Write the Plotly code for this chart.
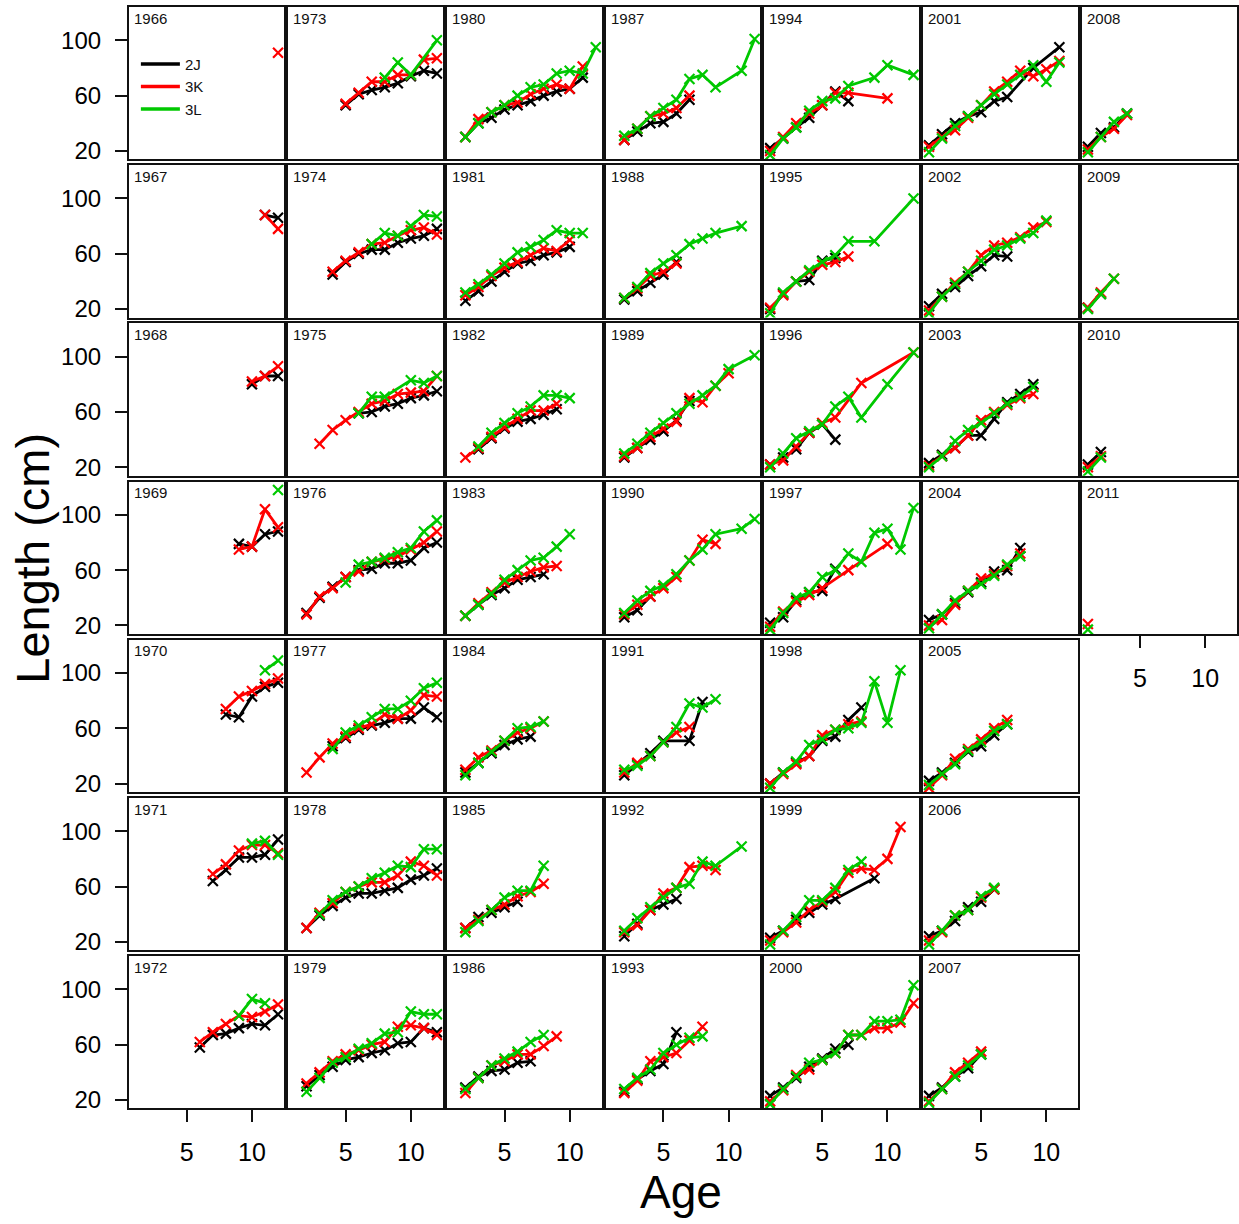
import plotly.graph_objects as go

# ---------------- data ----------------
YEARS = list(range(1966, 2012))
DIVISIONS = ["2J", "3K", "3L"]
COLORS = {"2J": "#000000", "3K": "#FF0000", "3L": "#00C800"}
X_TICKS = [5, 10]
Y_TICKS = [20, 60, 100]

# mean length (cm) at age, by year: {year: {age: length}}
L_2J = {
    1967: {11: 88, 12: 86},
    1968: {10: 80, 11: 86, 12: 86},
    1969: {9: 79, 10: 77, 11: 86, 12: 88},
    1970: {8: 70, 9: 68, 10: 83, 11: 90, 12: 93},
    1971: {7: 64, 8: 72, 9: 81, 10: 81, 11: 83, 12: 94},
    1972: {6: 58, 7: 67, 8: 68, 9: 72, 10: 75, 11: 74, 12: 82},
    1973: {5: 53, 6: 61, 7: 64, 8: 66, 9: 69, 10: 74, 11: 78, 12: 76},
    1974: {4: 45, 5: 54, 6: 60, 7: 63, 8: 63, 9: 68, 10: 71, 11: 73, 12: 78},
    1975: {6: 59, 7: 60, 8: 64, 9: 66, 10: 70, 11: 72, 12: 75},
    1976: {2: 29, 3: 40, 4: 48, 5: 55, 6: 60, 7: 61, 8: 65, 9: 65, 10: 67, 11: 76, 12: 80},
    1977: {4: 47, 5: 53, 6: 59, 7: 62, 8: 64, 9: 67, 10: 67, 11: 75, 12: 68},
    1978: {2: 30, 3: 39, 4: 46, 5: 52, 6: 55, 7: 55, 8: 57, 9: 59, 10: 65, 11: 68, 12: 73},
    1979: {2: 30, 3: 38, 4: 44, 5: 49, 6: 51, 7: 54, 8: 56, 9: 61, 10: 62, 11: 72, 12: 69},
    1980: {2: 30, 3: 40, 4: 44, 5: 50, 6: 53, 7: 56, 8: 60, 9: 63, 10: 65, 11: 73},
    1981: {2: 26, 3: 33, 4: 40, 5: 47, 6: 53, 7: 55, 8: 59, 9: 61, 10: 65},
    1982: {3: 33, 4: 41, 5: 48, 6: 53, 7: 55, 8: 58, 9: 62},
    1983: {2: 27, 3: 35, 4: 42, 5: 47, 6: 53, 7: 55, 8: 57},
    1984: {2: 28, 3: 35, 4: 42, 5: 48, 6: 52, 7: 54},
    1985: {2: 30, 3: 38, 4: 41, 5: 45, 6: 49},
    1986: {2: 29, 3: 37, 4: 41, 5: 42, 6: 47, 7: 48},
    1987: {2: 28, 3: 34, 4: 40, 5: 41, 6: 47, 7: 57},
    1988: {2: 27, 3: 33, 4: 39, 5: 45, 6: 54},
    1989: {2: 27, 3: 34, 4: 40, 5: 46, 6: 54, 7: 68},
    1990: {2: 26, 3: 31, 4: 41},
    1991: {2: 26, 3: 34, 4: 42, 5: 51, 7: 51, 8: 79},
    1992: {2: 24, 3: 33, 4: 43, 5: 47, 6: 51},
    1993: {2: 26, 3: 35, 4: 41, 5: 46, 6: 69},
    1994: {1: 22, 2: 29, 3: 37, 4: 44, 5: 53, 6: 63, 7: 56},
    1995: {1: 20, 2: 31, 3: 40, 4: 41, 5: 55, 6: 57},
    1996: {1: 22, 2: 27, 3: 33, 4: 45, 5: 51, 6: 40},
    1997: {1: 22, 2: 26, 3: 38, 4: 44, 5: 45, 6: 61},
    1998: {1: 20, 2: 28, 3: 35, 4: 40, 5: 51, 6: 54, 7: 66, 8: 75},
    1999: {1: 23, 2: 28, 3: 36, 4: 41, 5: 47, 6: 51, 9: 66},
    2000: {1: 23, 2: 29, 3: 36, 4: 44, 5: 50, 6: 57, 7: 60},
    2001: {1: 24, 2: 32, 3: 40, 4: 45, 5: 48, 6: 56, 7: 59, 9: 80, 11: 95},
    2002: {1: 22, 2: 31, 3: 36, 4: 44, 5: 51, 6: 59, 7: 58},
    2003: {1: 23, 2: 29, 3: 34, 4: 43, 5: 43, 6: 55, 7: 67, 8: 73, 9: 80},
    2004: {1: 24, 2: 28, 3: 36, 4: 44, 5: 51, 6: 59, 7: 60, 8: 76},
    2005: {1: 22, 2: 28, 3: 35, 4: 43, 5: 47, 6: 55, 7: 63},
    2006: {1: 24, 2: 28, 3: 35, 4: 45, 5: 49, 6: 58},
    2007: {1: 23, 2: 29, 3: 37, 4: 43, 5: 53},
    2008: {1: 23, 2: 33, 3: 37, 4: 47},
    2009: {1: 21, 2: 31},
    2010: {1: 22, 2: 31},
}

L_3K = {
    1966: {12: 91},
    1967: {11: 88, 12: 78},
    1968: {10: 82, 11: 86, 12: 93},
    1969: {9: 75, 10: 77, 11: 104, 12: 91},
    1970: {8: 74, 9: 83, 10: 87, 11: 92, 12: 96},
    1971: {7: 69, 8: 76, 9: 86, 10: 90, 11: 90, 12: 84},
    1972: {6: 62, 7: 69, 8: 75, 9: 81, 10: 80, 11: 84, 12: 89},
    1973: {5: 54, 6: 62, 7: 70, 8: 70, 9: 75, 10: 75, 11: 86, 12: 87},
    1974: {4: 47, 5: 55, 6: 61, 7: 67, 8: 68, 9: 73, 10: 77, 11: 79, 12: 74},
    1975: {3: 37, 4: 47, 5: 54, 6: 60, 7: 66, 8: 68, 9: 73, 10: 74, 11: 75, 12: 86},
    1976: {2: 28, 3: 41, 4: 47, 5: 55, 6: 59, 7: 66, 8: 68, 9: 70, 10: 75, 11: 80, 12: 88},
    1977: {2: 28, 3: 39, 4: 49, 5: 54, 6: 60, 7: 63, 8: 70, 9: 67, 10: 73, 11: 84, 12: 83},
    1978: {2: 30, 3: 41, 4: 48, 5: 56, 6: 60, 7: 63, 8: 63, 9: 68, 10: 78, 11: 75, 12: 68},
    1979: {2: 32, 3: 40, 4: 48, 5: 53, 6: 56, 7: 60, 8: 62, 9: 73, 10: 74, 11: 72, 12: 67},
    1980: {2: 30, 3: 43, 4: 48, 5: 53, 6: 55, 7: 61, 8: 65, 9: 68, 10: 65, 11: 81},
    1981: {2: 30, 3: 36, 4: 44, 5: 50, 6: 54, 7: 59, 8: 64, 9: 62, 10: 70},
    1982: {2: 27, 3: 34, 4: 42, 5: 49, 6: 55, 7: 61, 8: 61, 9: 66},
    1983: {2: 27, 3: 36, 4: 44, 5: 51, 6: 55, 7: 59, 8: 62, 9: 63},
    1984: {2: 30, 3: 39, 4: 44, 5: 51, 6: 57, 7: 60, 8: 65},
    1985: {2: 30, 3: 36, 4: 43, 5: 47, 6: 53, 7: 56, 8: 62},
    1986: {2: 25, 3: 36, 4: 45, 5: 48, 6: 53, 7: 53, 8: 59, 9: 66},
    1987: {2: 28, 3: 36, 4: 45, 5: 47, 6: 51, 7: 60},
    1988: {2: 28, 3: 35, 4: 44, 5: 47, 6: 53},
    1989: {2: 28, 3: 34, 4: 42, 5: 48, 6: 53, 7: 70, 8: 67, 9: 79, 10: 88},
    1990: {2: 28, 3: 35, 4: 41, 5: 47, 6: 55, 7: 67, 8: 82, 9: 79},
    1991: {2: 28, 3: 35, 4: 40, 5: 50, 6: 57, 7: 61},
    1992: {2: 27, 3: 32, 4: 43, 5: 55, 6: 59, 7: 74, 8: 75, 9: 72},
    1993: {2: 25, 3: 34, 4: 48, 5: 51, 6: 54, 7: 63, 8: 73},
    1994: {1: 20, 2: 30, 3: 40, 4: 47, 5: 53, 6: 62, 7: 62, 10: 58},
    1995: {1: 21, 2: 30, 3: 40, 4: 47, 5: 52, 6: 54, 7: 58},
    1996: {1: 22, 2: 25, 3: 35, 4: 45, 5: 52, 6: 56, 8: 81, 12: 103},
    1997: {1: 19, 2: 30, 3: 37, 4: 42, 5: 47, 7: 60, 10: 79},
    1998: {1: 20, 2: 27, 3: 34, 4: 40, 5: 55, 6: 59, 7: 63, 8: 65},
    1999: {1: 21, 2: 27, 3: 34, 4: 43, 5: 49, 6: 56, 7: 70, 8: 73, 9: 72, 10: 80, 11: 103},
    2000: {1: 19, 2: 27, 3: 38, 4: 42, 5: 49, 6: 54, 7: 67, 8: 67, 9: 72, 10: 72, 11: 76, 12: 90},
    2001: {1: 23, 2: 30, 3: 35, 4: 44, 5: 53, 6: 63, 7: 70, 8: 78, 9: 74, 10: 79, 11: 85},
    2002: {1: 19, 2: 29, 3: 39, 4: 47, 5: 59, 6: 66, 7: 68, 8: 72, 9: 79, 10: 83},
    2003: {1: 21, 2: 28, 3: 34, 4: 43, 5: 54, 6: 60, 7: 65, 8: 70, 9: 73},
    2004: {1: 20, 2: 24, 3: 35, 4: 45, 5: 54, 6: 57, 7: 63, 8: 72},
    2005: {1: 17, 2: 26, 3: 38, 4: 45, 5: 52, 6: 60, 7: 66},
    2006: {1: 21, 2: 27, 3: 39, 4: 43, 5: 52, 6: 58},
    2007: {1: 19, 2: 28, 3: 40, 4: 47, 5: 55},
    2008: {1: 21, 2: 30, 3: 36, 4: 46},
    2009: {1: 21, 2: 32, 3: 42},
    2010: {1: 20, 2: 28},
    2011: {1: 21},
}

L_3L = {
    1969: {12: 118},
    1970: {11: 102, 12: 109},
    1971: {10: 91, 11: 93, 12: 83},
    1972: {9: 81, 10: 93, 11: 90},
    1973: {8: 73, 9: 84, 10: 75, 12: 100},
    1974: {7: 67, 8: 75, 9: 73, 10: 80, 11: 88, 12: 87},
    1975: {6: 59, 7: 71, 8: 71, 10: 83, 11: 81, 12: 86},
    1976: {5: 51, 6: 64, 7: 66, 8: 69, 9: 73, 10: 76, 11: 88, 12: 96},
    1977: {4: 45, 5: 57, 6: 62, 7: 68, 8: 74, 9: 74, 10: 80, 11: 89, 12: 93},
    1978: {3: 40, 4: 50, 5: 56, 6: 60, 7: 66, 8: 70, 9: 75, 10: 74, 11: 87, 12: 87},
    1979: {2: 26, 3: 36, 4: 47, 5: 51, 6: 57, 7: 61, 8: 68, 9: 69, 10: 84, 11: 82, 12: 82},
    1980: {2: 30, 3: 40, 4: 48, 5: 53, 6: 60, 7: 66, 8: 68, 9: 76, 10: 78, 11: 76, 12: 95},
    1981: {2: 32, 3: 38, 4: 45, 5: 53, 6: 61, 7: 65, 8: 70, 9: 77, 10: 75, 11: 75},
    1982: {3: 35, 4: 45, 5: 52, 6: 59, 7: 64, 8: 72, 9: 72, 10: 70},
    1983: {2: 27, 3: 35, 4: 43, 5: 53, 6: 60, 7: 67, 8: 69, 9: 77, 10: 86},
    1984: {2: 26, 3: 35, 4: 43, 5: 51, 6: 60, 7: 61, 8: 65},
    1985: {2: 27, 3: 35, 4: 43, 5: 52, 6: 57, 7: 57, 8: 75},
    1986: {2: 28, 3: 36, 4: 45, 5: 50, 6: 55, 7: 62, 8: 67},
    1987: {2: 31, 3: 36, 4: 45, 5: 51, 6: 57, 7: 72, 8: 75, 9: 66, 11: 78, 12: 101},
    1988: {2: 28, 3: 36, 4: 46, 5: 53, 6: 59, 7: 67, 8: 71, 9: 75, 11: 80},
    1989: {2: 30, 3: 37, 4: 45, 5: 52, 6: 59, 7: 66, 8: 72, 9: 79, 10: 91, 12: 101},
    1990: {2: 29, 3: 38, 4: 45, 5: 49, 6: 57, 7: 67, 8: 75, 9: 86, 11: 90, 12: 97},
    1991: {2: 30, 3: 33, 4: 40, 5: 50, 6: 61, 7: 78, 8: 75, 9: 81},
    1992: {2: 28, 3: 37, 4: 45, 5: 52, 6: 59, 7: 62, 8: 78, 9: 75, 11: 89},
    1993: {2: 28, 3: 36, 4: 42, 5: 54, 6: 60, 7: 65, 8: 66},
    1994: {1: 17, 2: 29, 3: 37, 4: 49, 5: 56, 6: 58, 7: 67, 9: 73, 10: 82, 12: 75},
    1995: {1: 17, 2: 32, 3: 40, 4: 48, 5: 54, 6: 59, 7: 69, 9: 69, 12: 100},
    1996: {1: 20, 2: 30, 3: 41, 4: 46, 5: 51, 6: 64, 7: 71, 8: 56, 10: 80, 12: 103},
    1997: {1: 17, 2: 29, 3: 40, 4: 44, 5: 55, 6: 60, 7: 72, 8: 66, 9: 87, 10: 90, 11: 75, 12: 105},
    1998: {1: 17, 2: 28, 3: 36, 4: 48, 5: 52, 6: 59, 7: 60, 8: 64, 9: 94, 10: 64, 11: 102},
    1999: {1: 18, 2: 28, 3: 38, 4: 50, 5: 50, 6: 59, 7: 72, 8: 78},
    2000: {1: 17, 2: 28, 3: 37, 4: 47, 5: 49, 6: 54, 7: 67, 8: 67, 9: 77, 10: 77, 11: 78, 12: 103},
    2001: {1: 19, 2: 29, 3: 38, 4: 45, 5: 53, 6: 61, 7: 68, 8: 75, 9: 82, 10: 70, 11: 84},
    2002: {1: 17, 2: 29, 3: 38, 4: 47, 5: 55, 6: 63, 7: 66, 8: 71, 9: 75, 10: 84},
    2003: {1: 20, 2: 28, 3: 39, 4: 47, 5: 52, 6: 59, 7: 66, 8: 71, 9: 78},
    2004: {1: 18, 2: 28, 3: 38, 4: 45, 5: 50, 6: 56, 7: 64, 8: 70},
    2005: {1: 19, 2: 27, 3: 34, 4: 44, 5: 50, 6: 58, 7: 63},
    2006: {1: 18, 2: 28, 3: 39, 4: 43, 5: 53, 6: 59},
    2007: {1: 18, 2: 28, 3: 37, 4: 45, 5: 53},
    2008: {1: 19, 2: 30, 3: 41, 4: 47},
    2009: {1: 20, 2: 31, 3: 42},
    2010: {1: 17, 2: 27},
    2011: {1: 17},
}

SERIES = {"2J": L_2J, "3K": L_3K, "3L": L_3L}

# ---------------- layout geometry ----------------
W, H = 1239, 1224
NROW = 7
PANEL_W, PANEL_H = 155, 153
COL_LEFT0, COL_STEP = 129, 159
ROW_TOP0, ROW_STEP = 7, 158.83
X_RANGE = [0.56, 12.44]
Y_RANGE = [13.9, 124.1]
FONT = "Liberation Sans, Arial, Helvetica, sans-serif"
FRAME = "#111111"

fig = go.Figure()
layout = {}
annotations = []

for i, year in enumerate(YEARS):
    col, row = divmod(i, NROW)
    n = i + 1
    sfx = "" if n == 1 else str(n)
    xa, ya = "x" + sfx, "y" + sfx
    left = COL_LEFT0 + COL_STEP * col
    top = ROW_TOP0 + ROW_STEP * row
    show_x = (row == NROW - 1) or (year == YEARS[-1])
    show_y = col == 0
    layout["xaxis" + sfx] = dict(
        domain=[left / W, (left + PANEL_W) / W], range=X_RANGE, anchor=ya,
        showgrid=False, zeroline=False, showline=True, mirror=True,
        linecolor=FRAME, linewidth=2,
        tickmode="array", tickvals=X_TICKS if show_x else [],
        ticks="outside" if show_x else "", ticklen=12, tickwidth=2, tickcolor=FRAME,
        showticklabels=show_x, tickfont=dict(size=25, color="black", family=FONT),
        ticklabelstandoff=9,
    )
    layout["yaxis" + sfx] = dict(
        domain=[1 - (top + PANEL_H) / H, 1 - top / H], range=Y_RANGE, anchor=xa,
        showgrid=False, zeroline=False, showline=True, mirror=True,
        linecolor=FRAME, linewidth=2,
        tickmode="array", tickvals=Y_TICKS if show_y else [],
        ticks="outside" if show_y else "", ticklen=12, tickwidth=2, tickcolor=FRAME,
        showticklabels=show_y, tickfont=dict(size=24, color="black", family=FONT),
        ticklabelstandoff=9,
    )
    annotations.append(dict(
        text=str(year), xref=xa + " domain", yref=ya + " domain", x=0.02, y=0.995,
        xanchor="left", yanchor="top", showarrow=False,
        font=dict(size=15, color="#111111", family=FONT),
    ))
    for div in DIVISIONS:
        d = SERIES[div].get(year)
        if not d:
            continue
        ages = sorted(d)
        fig.add_trace(go.Scatter(
            x=ages, y=[d[a] for a in ages], xaxis=xa, yaxis=ya,
            mode="lines+markers", name=div, showlegend=False, hoverinfo="skip",
            line=dict(color=COLORS[div], width=2.8),
            marker=dict(symbol="x-thin", size=10, color=COLORS[div],
                        line=dict(width=2.2, color=COLORS[div])),
        ))

# legend entries (line keys, as in the reference)
for div in DIVISIONS:
    fig.add_trace(go.Scatter(x=[None], y=[None], xaxis="x", yaxis="y", mode="lines",
                             name=div, line=dict(color=COLORS[div], width=3.5)))

annotations.append(dict(text="Length (cm)", xref="paper", yref="paper",
                        x=33 / W, y=1 - 560 / H, textangle=-90, showarrow=False,
                        xanchor="center", yanchor="middle",
                        font=dict(size=47, color="black", family=FONT)))
annotations.append(dict(text="Age", xref="paper", yref="paper",
                        x=682 / W, y=1 - 1197 / H, showarrow=False,
                        xanchor="center", yanchor="middle",
                        font=dict(size=46, color="black", family=FONT)))

fig.update_layout(
    width=W, height=H, margin=dict(l=0, r=0, t=0, b=0),
    paper_bgcolor="white", plot_bgcolor="white",
    font=dict(family=FONT, color="black"),
    annotations=annotations,
    legend=dict(x=136 / W, y=1 - 48 / H, xanchor="left", yanchor="top",
                bgcolor="rgba(0,0,0,0)", borderwidth=0, tracegroupgap=0,
                itemwidth=39,
                font=dict(size=15, color="#111111", family=FONT)),
    **layout,
)

fig.write_html("out.html")
